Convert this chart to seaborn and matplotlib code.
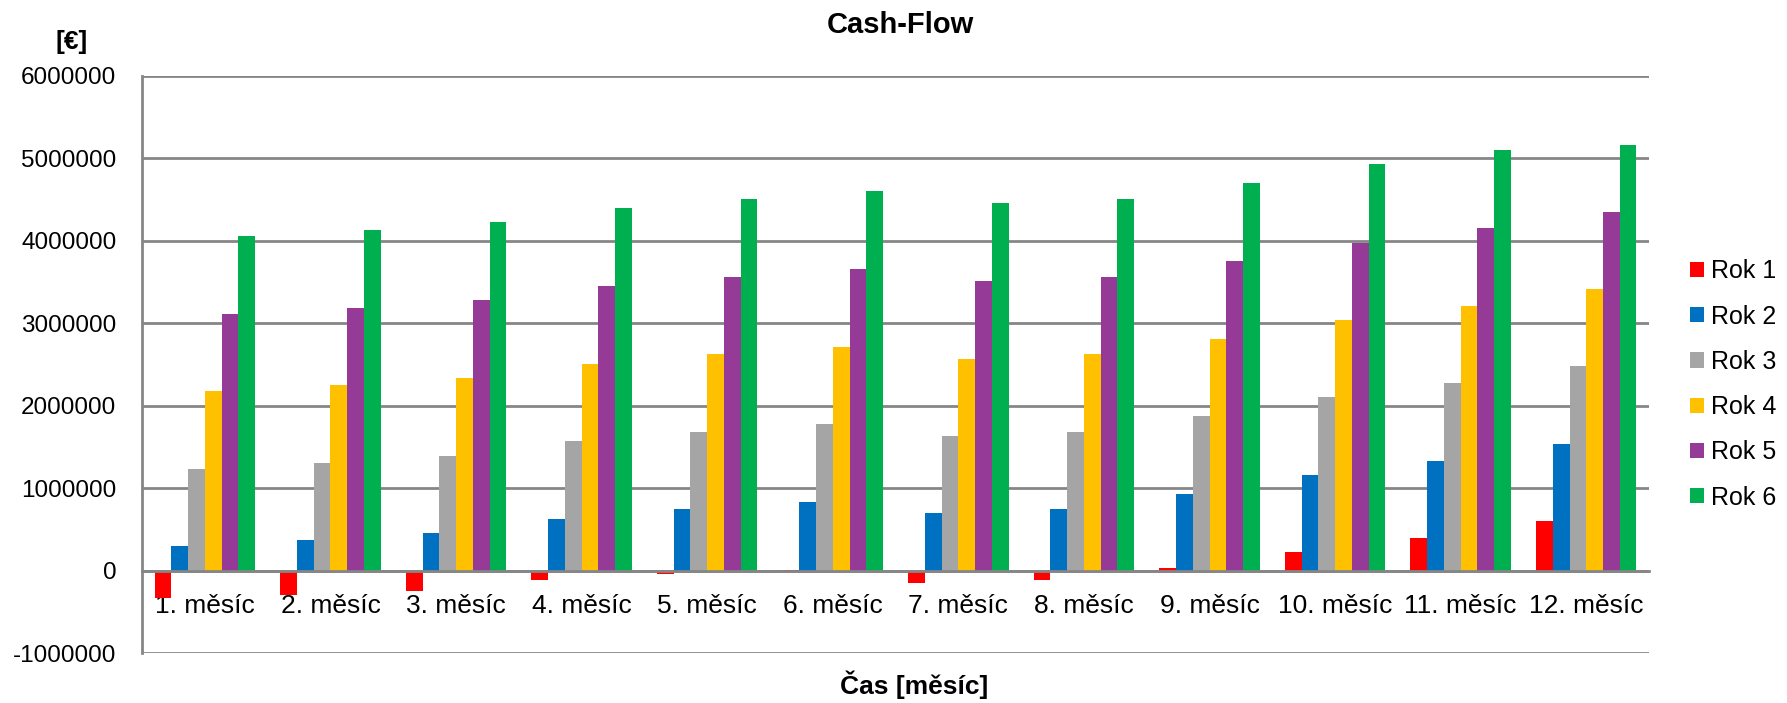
import pandas as pd
import matplotlib.pyplot as plt
import seaborn as sns
from matplotlib.ticker import FixedLocator

# Cash-Flow podle měsíců a roků (v €)
mesice = ['1. měsíc', '2. měsíc', '3. měsíc', '4. měsíc', '5. měsíc', '6. měsíc',
          '7. měsíc', '8. měsíc', '9. měsíc', '10. měsíc', '11. měsíc', '12. měsíc']
roky = ['Rok 1', 'Rok 2', 'Rok 3', 'Rok 4', 'Rok 5', 'Rok 6']

rok1 = [-335000, -300000, -250000, -109000, -36000, 10000, -153000, -117000, 33000, 227000, 397000, 597000]
rok2 = [296000, 369000, 458000, 631000, 745000, 834000, 697000, 749000, 931000, 1161000, 1335000, 1535000]
rok3 = [1234000, 1307000, 1396000, 1574000, 1683000, 1777000, 1635000, 1683000, 1874000, 2104000, 2273000, 2478000]
rok4 = [2177000, 2250000, 2339000, 2512000, 2626000, 2715000, 2569000, 2626000, 2808000, 3042000, 3210000, 3420000]
rok5 = [3115000, 3188000, 3277000, 3455000, 3564000, 3658000, 3507000, 3564000, 3750000, 3980000, 4153000, 4354000]
rok6 = [4062000, 4135000, 4228000, 4398000, 4511000, 4600000, 4459000, 4511000, 4701000, 4932000, 5105000, 5161000]

barvy = ['#FF0000', '#0070C0', '#A5A5A5', '#FFC000', '#953A96', '#00B050']
y_ticks = [-1000000, 0, 1000000, 2000000, 3000000, 4000000, 5000000, 6000000]

df = pd.DataFrame({'Měsíc': mesice * 6,
                   'Rok': [r for r in roky for _ in mesice],
                   'Hodnota': rok1 + rok2 + rok3 + rok4 + rok5 + rok6})

sns.set_style('white')
plt.rcParams['font.family'] = ['Liberation Sans', 'DejaVu Sans']
plt.rcParams['text.color'] = 'black'
plt.rcParams['xtick.labelcolor'] = 'black'
plt.rcParams['ytick.labelcolor'] = 'black'

fig = plt.figure(figsize=(17.87, 7.03), dpi=100)
ax = fig.add_axes([0.0795, 0.0711, 0.8433, 0.8208])

sns.barplot(data=df, x='Měsíc', y='Hodnota', hue='Rok', palette=barvy,
            width=0.8, saturation=1, ax=ax, legend=True, edgecolor='none')

seda = '#868686'
ax.set_ylim(-1000000, 6000000)
ax.set_xlim(-0.5, 11.5)
ax.set_yticks(y_ticks)
ax.set_yticklabels([str(v) for v in y_ticks], fontsize=17.5)
ax.yaxis.grid(True, color=seda, linewidth=2)
ax.set_axisbelow(True)

# osa x leží na nule, značky mezi kategoriemi
ax.spines['bottom'].set_position(('data', 0))
for s in ['top', 'right']:
    ax.spines[s].set_visible(False)
for s in ['bottom', 'left']:
    ax.spines[s].set_color(seda)
    ax.spines[s].set_linewidth(2)
ax.xaxis.set_minor_locator(FixedLocator([i - 0.5 for i in range(13)]))
ax.tick_params(axis='x', which='major', length=0, pad=17, labelsize=19, labelcolor='black')
ax.tick_params(axis='x', which='minor', length=6, width=2, color=seda, direction='out')
ax.tick_params(axis='y', length=6.5, width=2, color=seda, pad=12, labelcolor='black')

ax.set_xlabel('')
ax.set_ylabel('')

handles, labels = ax.get_legend_handles_labels()
ax.get_legend().remove()
fig.legend(handles, labels, loc='center left', bbox_to_anchor=(0.933, 0.453),
           frameon=False, prop={'family': 'Liberation Sans', 'size': 18}, labelcolor='black',
           handlelength=0.56, handleheight=0.56, handletextpad=0.3, labelspacing=0.85)

fig.text(0.504, 0.964, 'Cash-Flow', ha='center', va='center', fontsize=21, fontweight='bold',
         color='black')
fig.text(0.040, 0.940, '[€]', ha='center', va='center', fontsize=19, fontweight='bold',
         color='black')
fig.text(0.5115, 0.0256, 'Čas [měsíc]', ha='center', va='center', fontsize=19, fontweight='bold',
         color='black')

fig.savefig('out.png', dpi=100)
